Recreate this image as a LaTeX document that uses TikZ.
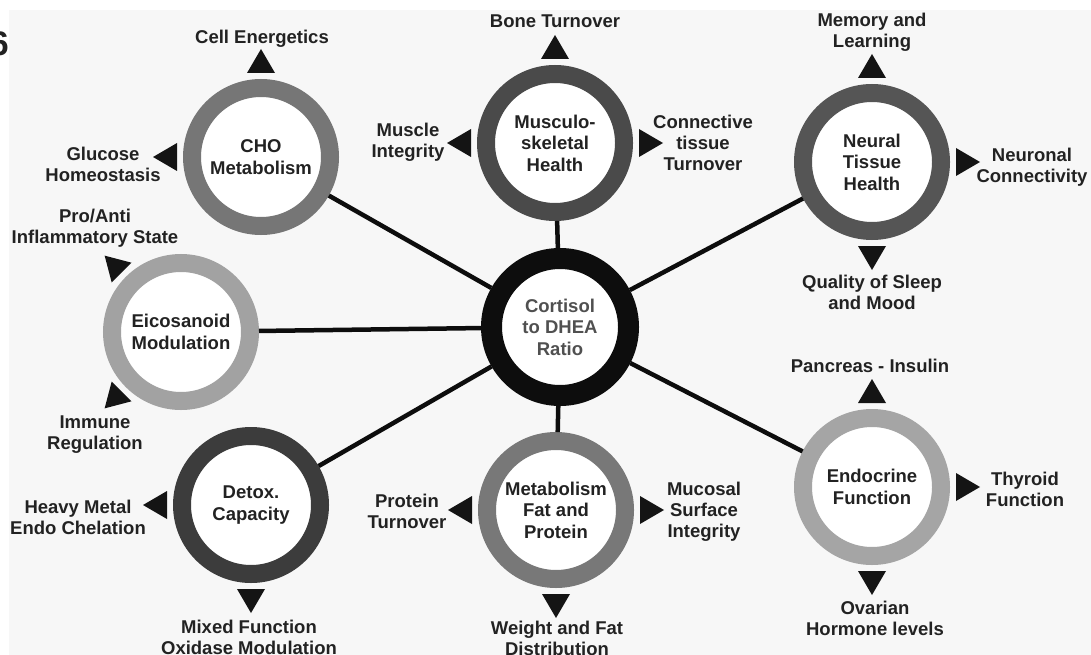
\documentclass[tikz,border=0pt]{standalone}
\usepackage{fontspec}
\setmainfont{Liberation Sans}
\definecolor{ink}{HTML}{222222}
\definecolor{bgc}{HTML}{F7F7F7}
\definecolor{rcho}{HTML}{767676}
\definecolor{rmus}{HTML}{4A4A4A}
\definecolor{rneu}{HTML}{555555}
\definecolor{reic}{HTML}{A2A2A2}
\definecolor{rdet}{HTML}{3C3C3C}
\definecolor{rmet}{HTML}{787878}
\definecolor{rend}{HTML}{A5A5A5}
\definecolor{cortxt}{HTML}{505050}
\newcommand\ptri[2]{\fill[tri, shift={(#1.center)}, rotate=#2] (84,-14) -- (108,0) -- (84,14) -- cycle;}
\begin{document}
\begin{tikzpicture}[x=1pt,y=-1pt,
  ring/.style={circle, draw=#1, line width=18pt, fill=white, minimum size=138pt,
    inner sep=0pt, outer sep=9pt, align=center, text=ink,
    font=\bfseries\fontsize{18.5}{21.5}\selectfont},
  corering/.style={circle, draw=black!95, line width=21pt, fill=white, minimum size=137pt,
    inner sep=0pt, outer sep=10.5pt, align=center, text=cortxt,
    font=\bfseries\fontsize{18.5}{21.5}\selectfont},
  lbl/.style={align=center, inner sep=0pt, text=ink,
    font=\bfseries\fontsize{18.5}{21}\selectfont},
  conn/.style={line width=4.5pt, draw=black!95},
  tri/.style={fill=black!92}]
\useasboundingbox (0,0) rectangle (1091,655);
\fill[bgc] (9,10) rectangle (1091,655);
\node[anchor=east, inner sep=0pt, text=ink, font=\bfseries\fontsize{34}{34}\selectfont] (fig) at (9,44) {6};

% circles
\node[corering] (cort) at (560,327) {Cortisol\\to DHEA\\Ratio};
\node[ring=rcho] (cho) at (261,157) {CHO\\Metabolism};
\node[ring=rmus] (mus) at (555,143) {Musculo-\\skeletal\\Health};
\node[ring=rneu] (neu) at (872,162) {Neural\\Tissue\\Health};
\node[ring=reic] (eic) at (181,332) {Eicosanoid\\Modulation};
\node[ring=rdet] (det) at (251,505) {Detox.\\Capacity};
\node[ring=rmet] (met) at (556,510) {Metabolism\\Fat and\\Protein};
\node[ring=rend] (endo) at (872,487) {Endocrine\\Function};

% connectors
\draw[conn] (cort) -- (cho);
\draw[conn] (cort) -- (mus);
\draw[conn] (cort) -- (neu);
\draw[conn] (cort) -- (eic);
\draw[conn] (cort) -- (det);
\draw[conn] (cort) -- (met);
\draw[conn] (cort) -- (endo);

% triangles
\ptri{cho}{90}
\ptri{cho}{180}
\ptri{mus}{90}
\ptri{mus}{180}
\ptri{mus}{0}
\ptri{neu}{90}
\ptri{neu}{0}
\ptri{neu}{270}
\ptri{eic}{135}
\ptri{eic}{225}
\ptri{det}{180}
\ptri{det}{270}
\ptri{met}{180}
\ptri{met}{0}
\ptri{met}{270}
\ptri{endo}{90}
\ptri{endo}{0}
\ptri{endo}{270}

% labels
\node[lbl] (l1) at (262,39) {Cell Energetics};
\node[lbl] (l2) at (103,164) {Glucose\\Homeostasis};
\node[lbl] (l3) at (555,21) {Bone Turnover};
\node[lbl] (l4) at (408,142) {Muscle\\Integrity};
\node[lbl] (l5) at (703,143) {Connective\\tissue\\Turnover};
\node[lbl] (l6) at (872,32) {Memory and\\Learning};
\node[lbl] (l7) at (1032,167) {Neuronal\\Connectivity};
\node[lbl] (l8) at (872,292) {Quality of Sleep\\and Mood};
\node[lbl] (l9) at (95,228) {Pro/Anti\\Inflammatory State};
\node[lbl] (l10) at (95,435) {Immune\\Regulation};
\node[lbl] (l11) at (78,517) {Heavy Metal\\Endo Chelation};
\node[lbl] (l12) at (249,637) {Mixed Function\\Oxidase Modulation};
\node[lbl] (l13) at (407,511) {Protein\\Turnover};
\node[lbl] (l14) at (704,512) {Mucosal\\Surface\\Integrity};
\node[lbl] (l15) at (557,638) {Weight and Fat\\Distribution};
\node[lbl] (l16) at (870,366) {Pancreas - Insulin};
\node[lbl] (l17) at (1025,489) {Thyroid\\Function};
\node[lbl] (l18) at (875,618) {Ovarian\\Hormone levels};
\end{tikzpicture}
\end{document}
